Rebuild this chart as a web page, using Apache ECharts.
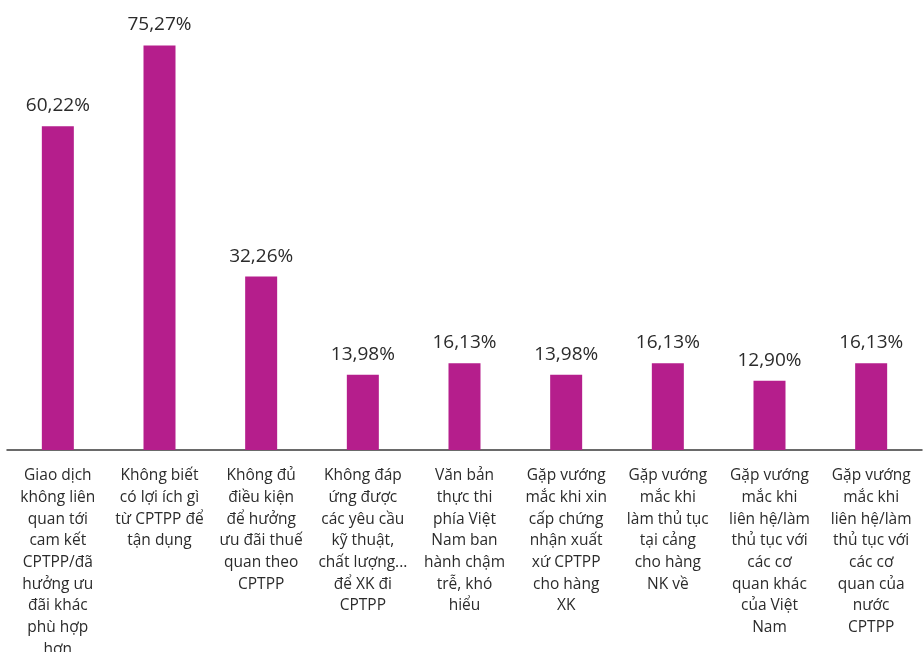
<!DOCTYPE html>
<html>
<head>
<meta charset="utf-8">
<style>
  html, body { margin: 0; padding: 0; background: #fff; width: 100%; height: 100%; overflow: hidden; }
  #chart { position: absolute; left: 0; top: 0; width: 923px; height: 652px; }
</style>
<script src="https://cdn.jsdelivr.net/npm/echarts@6/dist/echarts.min.js"></script>
</head>
<body>
<div id="chart"></div>
<script>
// Obstacles reported by firms when using CPTPP (share of respondents, %)
const categories = [
  'Giao dịch\nkhông liên\nquan tới\ncam kết\nCPTPP/đã\nhưởng ưu\nđãi khác\nphù hợp\nhơn',
  'Không biết\ncó lợi ích gì\ntừ CPTPP để\ntận dụng',
  'Không đủ\nđiều kiện\nđể hưởng\nưu đãi thuế\nquan theo\nCPTPP',
  'Không đáp\nứng được\ncác yêu cầu\nkỹ thuật,\nchất lượng...\nđể XK đi\nCPTPP',
  'Văn bản\nthực thi\nphía Việt\nNam ban\nhành chậm\ntrễ, khó\nhiểu',
  'Gặp vướng\nmắc khi xin\ncấp chứng\nnhận xuất\nxứ CPTPP\ncho hàng\nXK',
  'Gặp vướng\nmắc khi\nlàm thủ tục\ntại cảng\ncho hàng\nNK về',
  'Gặp vướng\nmắc khi\nliên hệ/làm\nthủ tục với\ncác cơ\nquan khác\ncủa Việt\nNam',
  'Gặp vướng\nmắc khi\nliên hệ/làm\nthủ tục với\ncác cơ\nquan của\nnước\nCPTPP'
];
const shares = [60.22, 75.27, 32.26, 13.98, 16.13, 13.98, 16.13, 12.90, 16.13];

const FONT = '"Open Sans", "Noto Sans", sans-serif';
const chart = echarts.init(document.getElementById('chart'), null, { renderer: 'canvas', width: 923, height: 652 });

chart.setOption({
  animation: false,
  backgroundColor: '#ffffff',
  grid: { left: 7, right: 1, top: 20, bottom: 202, containLabel: false, outerBoundsMode: 'none' },
  xAxis: {
    type: 'category',
    data: categories,
    axisLine: { show: true, lineStyle: { color: '#3a3a3a', width: 1.5 } },
    axisTick: { show: false },
    axisLabel: {
      interval: 0,
      margin: 15,
      color: '#2b2b2b',
      fontFamily: FONT,
      fontSize: 15.5,
      lineHeight: 21.7,
      align: 'center'
    }
  },
  yAxis: {
    type: 'value',
    min: 0,
    max: 80,
    show: false,
    splitLine: { show: false }
  },
  series: [{
    type: 'bar',
    data: shares,
    barWidth: 32,
    itemStyle: { color: '#B51E8C' },
    label: {
      show: true,
      position: 'top',
      distance: 11,
      color: '#2b2b2b',
      fontFamily: FONT,
      fontSize: 19,
      formatter: p => p.value.toFixed(2).replace('.', ',') + '%'
    }
  }]
});
</script>
</body>
</html>
